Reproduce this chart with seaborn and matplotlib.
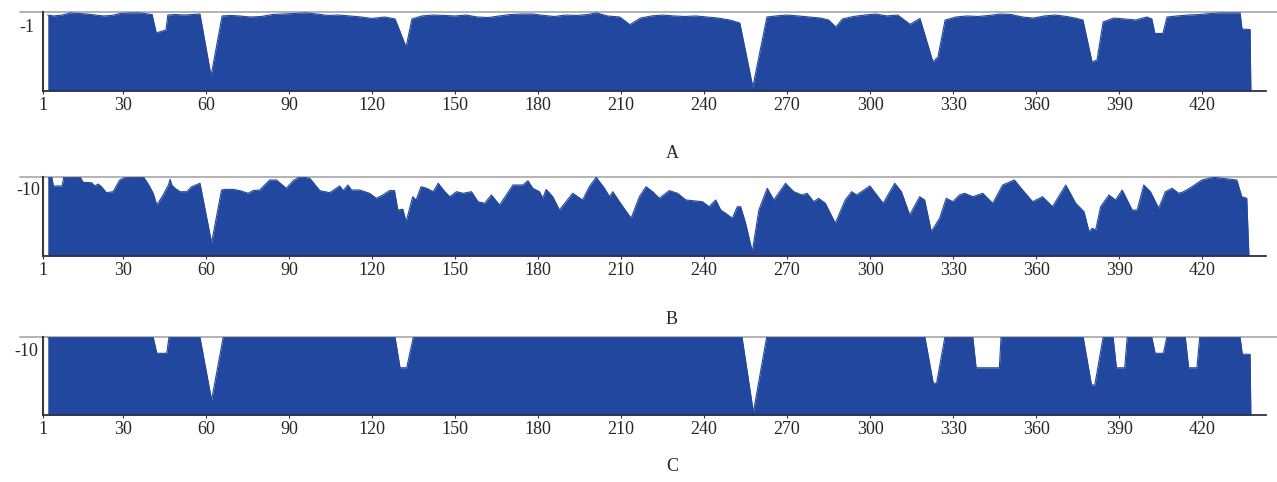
import matplotlib
matplotlib.use("Agg")
import matplotlib.pyplot as plt
import seaborn as sns
import pandas as pd

# Residue positions (x) and profile scores (y) for the three profiles
a_pos = [2.8, 5, 8, 11, 14, 17, 20, 23, 26, 29, 32, 36, 39, 40.5, 42, 45.5, 46.2, 49, 52, 55,
         57.8, 61.8, 65.8, 69, 72, 76, 80, 84, 88, 92, 96, 100, 104, 108, 112, 116, 120, 124.5,
         128.3, 132.3, 134.4, 138, 142, 146, 150, 154, 158, 162, 166, 170, 174, 178, 182, 186,
         190, 194, 198, 201, 205, 209.5, 213.2, 217, 221, 225, 229, 233, 237, 241, 245, 249.3,
         252.9, 257.6, 262.7, 266, 270, 274, 278, 282, 285, 287.6, 290, 294, 298, 302, 306, 310,
         314.4, 318, 322.7, 324.5, 327.1, 331, 335, 339, 343, 347, 351, 355, 359, 363, 367, 371,
         374, 376.9, 380.2, 382, 384.2, 388, 392, 396, 400, 401.8, 402.9, 405.8, 407.3, 411, 415,
         419, 423, 427, 431, 433.7, 434.4, 437.3, 437.6]
a_val = [-0.21, -0.28, -0.21, -0.05, -0.09, -0.13, -0.21, -0.28, -0.24, -0.09, -0.05, -0.05,
         -0.13, -0.17, -1.58, -1.35, -0.21, -0.17, -0.21, -0.17, -0.13, -4.87, -0.28, -0.24,
         -0.28, -0.36, -0.32, -0.17, -0.13, -0.09, -0.05, -0.13, -0.24, -0.21, -0.28, -0.36,
         -0.47, -0.36, -0.51, -2.66, -0.51, -0.28, -0.21, -0.24, -0.28, -0.21, -0.36, -0.40,
         -0.28, -0.17, -0.13, -0.13, -0.24, -0.32, -0.21, -0.24, -0.17, -0.04, -0.28, -0.36,
         -0.95, -0.44, -0.28, -0.21, -0.28, -0.32, -0.28, -0.36, -0.44, -0.59, -0.82, -5.72,
         -0.36, -0.28, -0.21, -0.28, -0.36, -0.44, -0.59, -1.13, -0.51, -0.32, -0.21, -0.13,
         -0.28, -0.21, -0.92, -0.47, -3.80, -3.42, -0.59, -0.36, -0.28, -0.32, -0.24, -0.13,
         -0.17, -0.36, -0.44, -0.28, -0.21, -0.32, -0.44, -0.59, -3.80, -3.65, -0.74, -0.44,
         -0.51, -0.59, -0.36, -0.51, -1.62, -1.62, -0.36, -0.28, -0.21, -0.17, -0.09, -0.05,
         -0.05, -0.05, -1.28, -1.32, -6.0]

b_pos = [2.8, 4.2, 4.8, 8.0, 8.6, 14.4, 15.6, 18.6, 19.8, 21, 22.2, 24, 26.4, 28.8, 31.2, 37.3,
         39.1, 40.9, 42.2, 44.5, 46.4, 47.0, 47.6, 48.8, 50.6, 53, 54.8, 57.8, 62, 65.6, 66.8,
         69.8, 72.2, 75.2, 77, 79.4, 83, 85.4, 89, 91.5, 93.9, 97.5, 101.1, 104.7, 108.3, 109.5,
         111.3, 112.5, 115.5, 119.1, 121.5, 123.9, 126.3, 128.1, 129.3, 131.1, 132.3, 134.7,
         135.9, 137.7, 139.7, 142.1, 143.9, 146.3, 148.1, 150.5, 152.9, 155.9, 158.3, 160.7,
         163.1, 166.1, 168.5, 170.9, 174.5, 176.3, 178.1, 180.5, 181.7, 182.9, 185.3, 187.7,
         190.1, 192.5, 196.1, 198.5, 201, 204, 205.8, 207, 209.4, 213.6, 216.6, 219, 221.4,
         223.8, 227.4, 230.4, 233.4, 239.4, 241.8, 244.2, 246, 247.8, 250.2, 252, 253.2, 255,
         257.4, 259.8, 262.8, 265.2, 269.4, 272.4, 275.4, 277.2, 279.6, 281.4, 283.8, 287.4,
         291, 293.3, 295.1, 299.9, 304.7, 308.9, 311.3, 314.3, 317.9, 319.7, 322.1, 325.1,
         327.5, 329.9, 332.3, 334.1, 337.1, 340.7, 344.3, 347.9, 352.1, 355.1, 358.7, 362.3,
         365.9, 370.7, 374.3, 377.3, 379.1, 380.3, 381.5, 383.3, 386.3, 388.7, 391.1, 394.7,
         396.5, 398.9, 401.3, 404.3, 406.7, 409.1, 411.5, 413.3, 416.3, 419.9, 424.1, 432.5,
         434.3, 436.1, 436.9]
b_val = [0, 0, -7.6, -7.6, 0, 0, -4.6, -4.9, -7.6, -6.0, -8.2, -13.1, -12.3, -2.7, 0, 0,
         -6.0, -13.6, -23.2, -15.0, -6.8, -2.2, -6.8, -9.5, -12.3, -12.3, -8.2, -5.4, -54.1,
         -10.9, -10.4, -10.4, -11.4, -13.6, -11.4, -10.9, -2.7, -2.7, -9.5, -3.3, 0, -1.3,
         -11.4, -13.1, -7.6, -11.4, -6.8, -10.9, -10.9, -13.6, -17.7, -15.0, -11.4, -11.4,
         -27.3, -26.7, -36.9, -16.4, -19.1, -8.2, -9.5, -12.3, -5.4, -12.3, -16.4, -12.3,
         -13.6, -12.3, -20.5, -21.8, -15.0, -23.2, -15.0, -6.8, -6.8, -3.3, -9.5, -12.3,
         -17.7, -10.4, -16.4, -27.3, -20.5, -13.6, -19.1, -8.2, -0.5, -9.5, -16.4, -12.3,
         -20.5, -34.1, -16.4, -8.2, -12.3, -17.7, -11.4, -13.6, -19.1, -20.5, -24.6, -19.1,
         -27.3, -30.0, -34.1, -24.6, -24.6, -38.2, -61.4, -27.3, -9.5, -19.1, -5.4, -12.3,
         -15.0, -13.6, -20.5, -17.7, -21.8, -38.2, -19.1, -12.3, -15.0, -7.6, -21.8, -5.4,
         -12.3, -31.4, -16.4, -19.1, -45.0, -34.1, -17.7, -20.5, -15.0, -13.6, -16.4, -13.6,
         -21.8, -6.8, -2.7, -10.9, -20.5, -16.4, -24.6, -6.8, -21.8, -28.7, -45.0, -42.3,
         -43.7, -24.6, -15.0, -19.1, -10.9, -27.3, -27.3, -6.8, -12.3, -25.9, -12.3, -9.5,
         -13.6, -12.3, -8.2, -2.7, -0.5, -2.7, -16.4, -17.7, -65.0]

c_pos = [2.8, 40.9, 42.2, 45.8, 46.6, 57.8, 62, 66.2, 128.3, 130.1, 132.5, 134.9, 253.7,
         257.8, 262.6, 319.8, 322.8, 324, 327, 337.1, 338.3, 346.7, 347.3, 377, 380, 381.2,
         384.2, 387.8, 389, 392, 392.9, 401.8, 403, 406, 407.2, 413.9, 415.1, 418.1, 419.1,
         433.7, 434.5, 437.3, 437.6]
c_val = [0, 0, -13.4, -13.4, 0, 0, -52.6, 0, 0, -25.5, -25.5, 0, 0, -62.7, 0, 0, -38.4,
         -38.4, 0, 0, -25.5, -25.5, 0, 0, -39.9, -39.9, 0, 0, -25.5, -25.5, 0, 0, -13.4,
         -13.4, 0, 0, -25.5, -25.5, 0, 0, -14.2, -14.2, -65.0]

x_ticks = [1, 30, 60, 90, 120, 150, 180, 210, 240, 270, 300, 330, 360, 390, 420]
panel_names = ["A", "B", "C"]
y_tick_vals = [-1, -10, -10]
y_tick_text = ["-1", "-10", "-10"]
y_floor = [-6.0, -65.0, -65.0]

FILL = "#22479e"

sns.set_theme(style="white")
plt.rcParams["font.family"] = ["Liberation Serif", "DejaVu Serif"]
plt.rcParams["axes.unicode_minus"] = False

fig = plt.figure(figsize=(12.77, 4.82), dpi=100)
W, H = 1277.0, 482.0
left_px, right_px = 42.8, 1266.0
boxes = [(12.3, 90.7), (176.7, 256.0), (337.3, 415.0)]
label_y = [153.5, 319.0, 466.7]
ytick_pad = [6.0, 2.0, 3.5]
series = [(a_pos, a_val), (b_pos, b_val), (c_pos, c_val)]

x_max = 1 + (right_px - left_px) / 2.767

for i, ((top, bot), (xs, ys)) in enumerate(zip(boxes, series)):
    ax = fig.add_axes([left_px / W, 1 - bot / H, (right_px - left_px) / W, (bot - top) / H])
    df = pd.DataFrame({"pos": xs, "score": ys})
    ax.fill_between(df["pos"], df["score"], y_floor[i], color=FILL, linewidth=0, zorder=2)
    sns.lineplot(data=df, x="pos", y="score", color=FILL, lw=0.8, ax=ax, zorder=3,
                 sort=False, estimator=None)
    ax.set_xlim(1, x_max)
    ax.set_ylim(y_floor[i], 0)
    # reference line along the top edge
    x0 = (20 - left_px) / (right_px - left_px)
    x1 = (W - left_px) / (right_px - left_px)
    ax.axhline(0, xmin=x0, xmax=x1, color="#b3b3b3", lw=1.4, clip_on=False, zorder=1)

    ax.set_xticks(x_ticks)
    ax.set_xticklabels([str(t) for t in x_ticks])
    ax.set_yticks([y_tick_vals[i]])
    ax.set_yticklabels([y_tick_text[i]])
    ax.tick_params(axis="x", direction="out", length=2.5, width=0.8, color="#333333",
                   pad=2, labelsize=13, bottom=True)
    ax.tick_params(axis="y", length=0, pad=ytick_pad[i], labelsize=13, left=True)
    ax.set_xlabel("")
    ax.set_ylabel("")
    for s in ("top", "right"):
        ax.spines[s].set_visible(False)
    ax.spines["bottom"].set_color("#2e2e4a")
    ax.spines["bottom"].set_linewidth(1.3)
    ax.spines["bottom"].set_zorder(4)
    ax.spines["left"].set_color("#3a3a3a")
    ax.spines["left"].set_linewidth(1.5)
    ax.set_facecolor("white")
    ax.grid(False)

    fig.text(672 / W, 1 - label_y[i] / H, panel_names[i], ha="center", va="center",
             fontsize=13)

fig.savefig("out.png", dpi=100, facecolor="white")
